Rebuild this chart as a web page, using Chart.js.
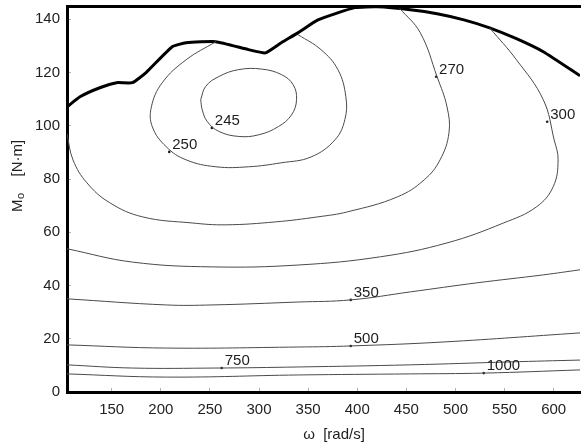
<!DOCTYPE html>
<html>
<head>
<meta charset="utf-8">
<script src="https://cdn.jsdelivr.net/npm/chart.js@4/dist/chart.umd.min.js"></script>
<style>
html,body{margin:0;padding:0;background:#fff;}
#c{display:block;}
</style>
</head>
<body>
<canvas id="c" width="584" height="443"></canvas>
<script>
// ---- axis ticks ----
const xTicks = [150, 200, 250, 300, 350, 400, 450, 500, 550, 600];
const yTicks = [0, 20, 40, 60, 80, 100, 120, 140];

// ---- full-load (max torque) curve: omega [rad/s], Mo [N·m] ----
const fullW = [104.5,117.7,137.9,155,171,185,211.6,225.8,256,289.4,306.6,322.7,339.9,360,397.5,420.7,454,481.3,508.6,534.8,562.1,589.4,626.8];
const fullM = [107.1,110.9,114.3,116.2,116.2,120,129.7,131.2,131.6,128.6,127.4,131.2,135,139.8,144.4,144.7,143.6,142.1,139.8,136.8,132.7,127.8,118.8];

// ---- specific fuel consumption contours ----
const c245W = [240.6,245.7,259.1,279.3,302.8,323,334.8,338.2,333.1,319.7,299.5,279.3,259.1,247.3,242.2,240.6];
const c245M = [109.8,114.8,118.5,121.1,121.3,119.2,115.4,109.8,104.1,99.7,96.6,96,97.9,101.6,106,109.8];

const c250W = [256.1,225.8,201.5,190.4,191.4,205.6,225.8,256.1,289.4,322.7,353,377.3,387.4,388.4,380.3,363.1,339.9];
const c250M = [131.6,124.8,116.2,107.1,99.6,92.1,87.2,84.6,84.6,86.1,88.3,94.7,102.3,110.9,121.1,128.6,134.2];

const c270W = [104.5,110.6,124.7,148,181.3,231.8,266.2,316.7,360.1,390.4,440.9,468.2,484.3,493.4,491.4,481.3,464.1,443];
const c270M = [97,87.2,78.6,71.1,65.8,63.5,62.8,63.9,65.8,67.7,73.3,79.7,87.2,97.4,107.1,118.4,135,144.2];

const c300W = [104.5,171.2,252,339.9,423.7,491.4,549,582.3,599.5,604.5,600.5,589.4,562.1,534.8];
const c300M = [53.8,48.8,47,47.7,50.8,56,63.5,69.5,77.1,87.2,94.7,109.8,124.8,136.8];

const c350W = [104.5,205.6,252,339.9,393.4,454,521.7,589.4,626.8];
const c350M = [35,32.7,32.7,33.8,34.6,37.6,41,44,45.9];

const c500W = [104.5,205.6,339.9,393.4,488.4,626.8];
const c500M = [17.7,16.5,16.9,17.3,18.8,22.2];

const c750W = [104.5,171.2,256.1,339.9,454,555,626.8];
const c750M = [10.2,9,9,9.4,10.2,11.3,12];

const c1000W = [104.5,205.6,339.9,454,528.8,626.8];
const c1000M = [6.8,5.6,6.4,6.8,7.1,8.3];

// ---- contour labels (anchor point on the line) ----
const labelText = ['245','250','270','300','350','500','750','1000'];
const labelW = [252,208.6,480.3,593.4,393.4,393.4,262,528.8];
const labelM = [99.2,90.2,118.4,101.5,34.6,17.3,9,7.1];

const zip = (w, m) => w.map((v, i) => ({x: v, y: m[i]}));

const contourStyle = (name, w, m) => ({
  label: name, data: zip(w, m), showLine: true, pointRadius: 0,
  borderColor: '#4a4a4a', borderWidth: 1, tension: 0.4, fill: false
});

const datasets = [
  contourStyle('245', c245W, c245M),
  contourStyle('250', c250W, c250M),
  contourStyle('270', c270W, c270M),
  contourStyle('300', c300W, c300M),
  contourStyle('350', c350W, c350M),
  contourStyle('500', c500W, c500M),
  contourStyle('750', c750W, c750M),
  contourStyle('1000', c1000W, c1000M),
  { label: 'full load', data: zip(fullW, fullM), showLine: true, pointRadius: 0,
    borderColor: '#000', borderWidth: 3, tension: 0.15, fill: false },
  { label: 'labels', data: zip(labelW, labelM), showLine: false,
    pointRadius: 1.3, pointBackgroundColor: '#222', pointBorderWidth: 0 }
];

const FONT = "'Liberation Sans', Arial, Helvetica, sans-serif";

const textPlugin = {
  id: 'texts',
  afterDatasetsDraw(chart) {
    const {ctx, scales} = chart;
    ctx.save();
    // contour labels
    ctx.fillStyle = '#1e1e1e';
    ctx.font = '15px ' + FONT;
    ctx.textAlign = 'left';
    ctx.textBaseline = 'middle';
    labelText.forEach((t, i) => {
      const px = scales.x.getPixelForValue(labelW[i]);
      const py = scales.y.getPixelForValue(labelM[i]);
      ctx.fillText(t, px + 3, py - 7);
    });
    // x axis title
    ctx.textAlign = 'center';
    ctx.font = '15px ' + FONT;
    ctx.fillText('\u03C9  [rad/s]', 334, 435);
    // y axis title (rotated)
    ctx.translate(18, 172);
    ctx.rotate(-Math.PI / 2);
    ctx.textAlign = 'left';
    ctx.font = '15px ' + FONT;
    const start = -40;
    ctx.fillText('M', start, 0);
    const mw = ctx.measureText('M').width;
    ctx.font = '11px ' + FONT;
    ctx.fillText('o', start + mw + 0.5, 3);
    ctx.font = '15px ' + FONT;
    ctx.fillText('[N\u00B7m]', start + mw + 23, 0);
    ctx.restore();
  }
};

const innerTicks = { display: true, drawOnChartArea: false, drawTicks: true, tickLength: -4, color: '#b0b0b0', lineWidth: 1 };

new Chart(document.getElementById('c'), {
  type: 'scatter',
  data: { datasets },
  options: {
    responsive: false,
    animation: false,
    devicePixelRatio: 1,
    layout: { padding: { top: 6, right: 0, left: 0, bottom: 0 } },
    plugins: { legend: { display: false }, tooltip: { enabled: false } },
    scales: {
      x: {
        type: 'linear', position: 'bottom', min: 104.5, max: 626.8,
        grid: innerTicks,
        border: { display: true, width: 3, color: '#000' },
        ticks: { color: '#222', font: { family: FONT, size: 15 }, padding: 13, maxRotation: 0 },
        afterBuildTicks: s => { s.ticks = xTicks.map(v => ({value: v})); },
        afterFit: s => { s.height = 51; s.paddingLeft = 0; s.paddingRight = 0; }
      },
      xTop: {
        type: 'linear', position: 'top', min: 104.5, max: 626.8,
        grid: { display: false, drawTicks: false },
        border: { display: true, width: 3, color: '#000' },
        ticks: { display: false },
        afterFit: s => { s.height = 0; s.paddingLeft = 0; s.paddingRight = 0; }
      },
      y: {
        type: 'linear', position: 'left', min: 0, max: 145,
        grid: innerTicks,
        border: { display: true, width: 3, color: '#000' },
        ticks: { color: '#222', font: { family: FONT, size: 15 }, padding: 11 },
        afterBuildTicks: s => { s.ticks = yTicks.map(v => ({value: v})); },
        afterFit: s => { s.width = 67; s.paddingTop = 0; s.paddingBottom = 0; }
      }
    }
  },
  plugins: [textPlugin]
});
</script>
</body>
</html>
